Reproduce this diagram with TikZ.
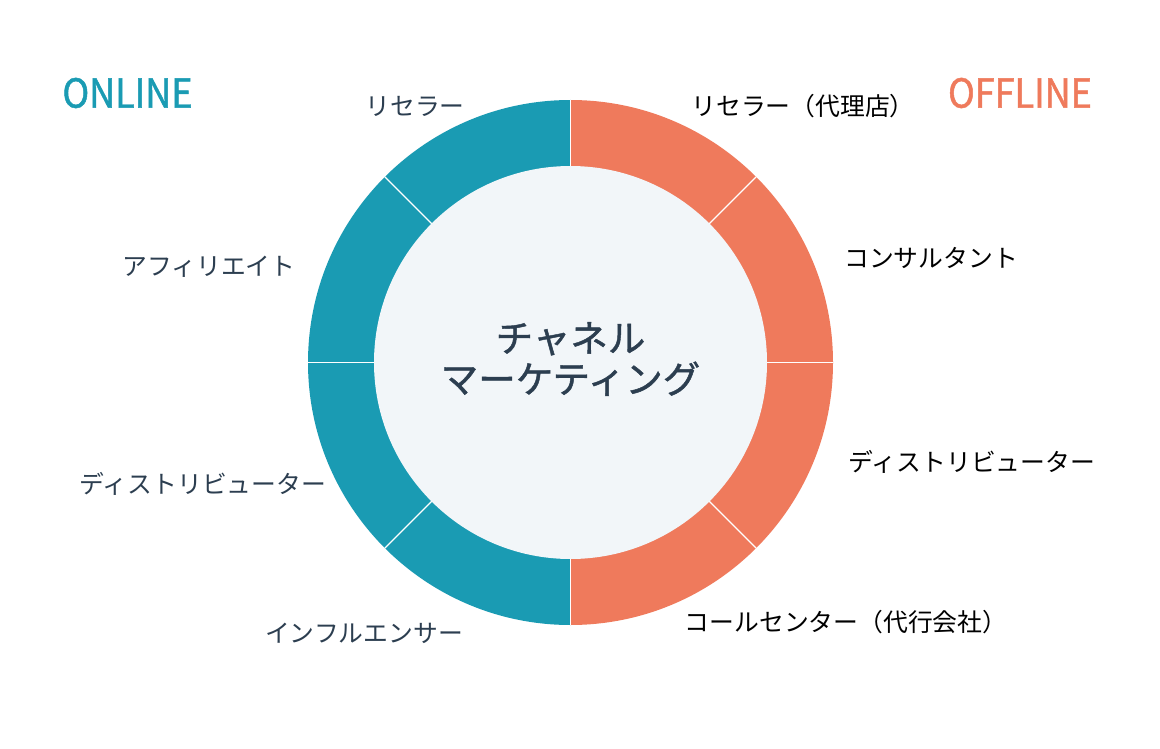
\documentclass[tikz,border=0pt]{standalone}
\usepackage{fontspec}
\setmainfont{Noto Sans CJK JP}
\newfontfamily\medfont{Noto Sans CJK JP}[FakeBold=1.2]
\newfontfamily\headfont{Noto Sans CJK JP}[FakeBold=1.2, FakeStretch=0.9]
\definecolor{tealc}{HTML}{1A9BB3}
\definecolor{coralc}{HTML}{EF7A5C}
\definecolor{innerc}{HTML}{F2F6F9}
\definecolor{slatec}{HTML}{2C3E50}
\tikzset{
  lab/.style={inner sep=0pt, font=\fontsize{24.8}{30}\selectfont},
  labl/.style={lab, text=slatec},
  labr/.style={lab, text=black},
  head/.style={inner sep=0pt, font=\headfont\fontsize{40}{44}\selectfont},
  sep/.style={white, line width=1.2pt}
}
\begin{document}
\begin{tikzpicture}[x=1pt,y=-1pt]
\useasboundingbox[fill=white] (0,0) rectangle (1160,749);
\coordinate (c) at (570.5,362.5);
\fill[tealc] (c) ++(90:262.5) arc[start angle=90, end angle=270, radius=262.5] -- cycle;
\fill[coralc] (c) ++(270:262.5) arc[start angle=270, end angle=450, radius=262.5] -- cycle;
\foreach \a in {0,45,...,315} \draw[sep] (c) -- ++(\a:262.5);
\fill[innerc] (c) circle[radius=196.5];
\node[inner sep=0pt, text=slatec, align=center, font=\medfont\fontsize{37.5}{41}\selectfont] (center) at (570.5,359) {チャネル\\マーケティング};
\node[head, text=tealc] (online) at (127.5,93) {ONLINE};
\node[head, text=coralc] (offline) at (1020,93) {OFFLINE};
\node[labl] (l1) at (415,106) {リセラー};
\node[labl] (l2) at (209,267) {アフィリエイト};
\node[labl] (l3) at (203,484) {ディストリビューター};
\node[labl] (l4) at (364,633) {インフルエンサー};
\node[labr] (r1) at (803,106) {リセラー（代理店）};
\node[labr] (r2) at (931,258) {コンサルタント};
\node[labr] (r3) at (972,462) {ディストリビューター};
\node[labr] (r4) at (846,622) {コールセンター（代行会社）};
\end{tikzpicture}
\end{document}
